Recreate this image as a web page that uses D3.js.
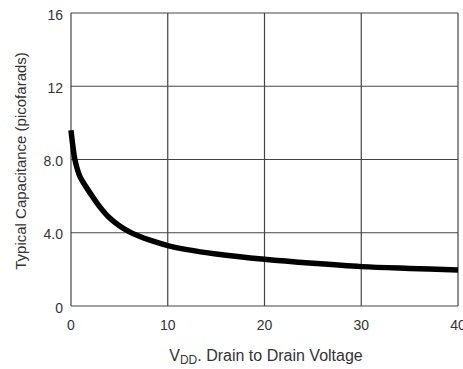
<!DOCTYPE html>
<html>
<head>
<meta charset="utf-8">
<script src="https://cdn.jsdelivr.net/npm/d3@7"></script>
<style>
  body { margin: 0; background: #fff; }
  svg { display: block; }
  text { font-family: "Liberation Sans", Arial, sans-serif; fill: #333; }
</style>
</head>
<body>
<svg id="chart" width="463" height="369"></svg>
<script>
// values
const voltage = [0, 0.2, 0.4, 0.9, 1.5, 2, 3, 4, 5, 6, 7, 8, 10, 12, 15, 20, 25, 30, 35, 40];
const capacitance = [9.6, 8.7, 8.0, 7.1, 6.55, 6.15, 5.4, 4.8, 4.38, 4.06, 3.82, 3.62, 3.3, 3.08, 2.84, 2.55, 2.33, 2.15, 2.05, 1.97];
const xTicks = [0, 10, 20, 30, 40];
const yTicks = [0, 4, 8, 12, 16];
const yTickLabels = ["0", "4.0", "8.0", "12", "16"];

const svg = d3.select('#chart');
const x = d3.scaleLinear().domain([0, 40]).range([71, 458]);
const y = d3.scaleLinear().domain([0, 16]).range([306, 13]);

// grid
const grid = svg.append('g').attr('stroke', '#444').attr('stroke-width', 1.2);
grid.selectAll('.vx').data(xTicks).enter().append('line')
    .attr('x1', d => x(d)).attr('x2', d => x(d))
    .attr('y1', y(0)).attr('y2', y(16));
grid.selectAll('.hy').data(yTicks).enter().append('line')
    .attr('x1', x(0)).attr('x2', x(40))
    .attr('y1', d => y(d)).attr('y2', d => y(d));

// tick labels
svg.append('g').selectAll('text').data(yTicks).enter().append('text')
    .attr('x', 63).attr('y', d => y(d) + 6.5)
    .attr('text-anchor', 'end').attr('font-size', 14)
    .text((d, i) => yTickLabels[i]);
svg.append('g').selectAll('text').data(xTicks).enter().append('text')
    .attr('x', d => x(d)).attr('y', 330)
    .attr('text-anchor', 'middle').attr('font-size', 14)
    .text(d => d);

// curve
const line = d3.line()
    .x(d => x(d[0]))
    .y(d => y(d[1]))
    .curve(d3.curveCatmullRom.alpha(0.5));
svg.append('path')
    .datum(voltage.map((v, i) => [v, capacitance[i]]))
    .attr('d', line)
    .attr('fill', 'none')
    .attr('stroke', '#000')
    .attr('stroke-width', 5.5)
    .attr('stroke-linecap', 'butt');

// axis titles
svg.append('text')
    .attr('transform', 'translate(26,' + 161 + ') rotate(-90)')
    .attr('text-anchor', 'middle').attr('font-size', 15)
    .text('Typical Capacitance (picofarads)');

const xt = svg.append('text')
    .attr('x', 266).attr('y', 361)
    .attr('text-anchor', 'middle').attr('font-size', 16);
xt.append('tspan').text('V');
xt.append('tspan').attr('font-size', 12).attr('dy', 3).text('DD');
xt.append('tspan').attr('dy', -3).text('. Drain to Drain Voltage');
</script>
</body>
</html>
